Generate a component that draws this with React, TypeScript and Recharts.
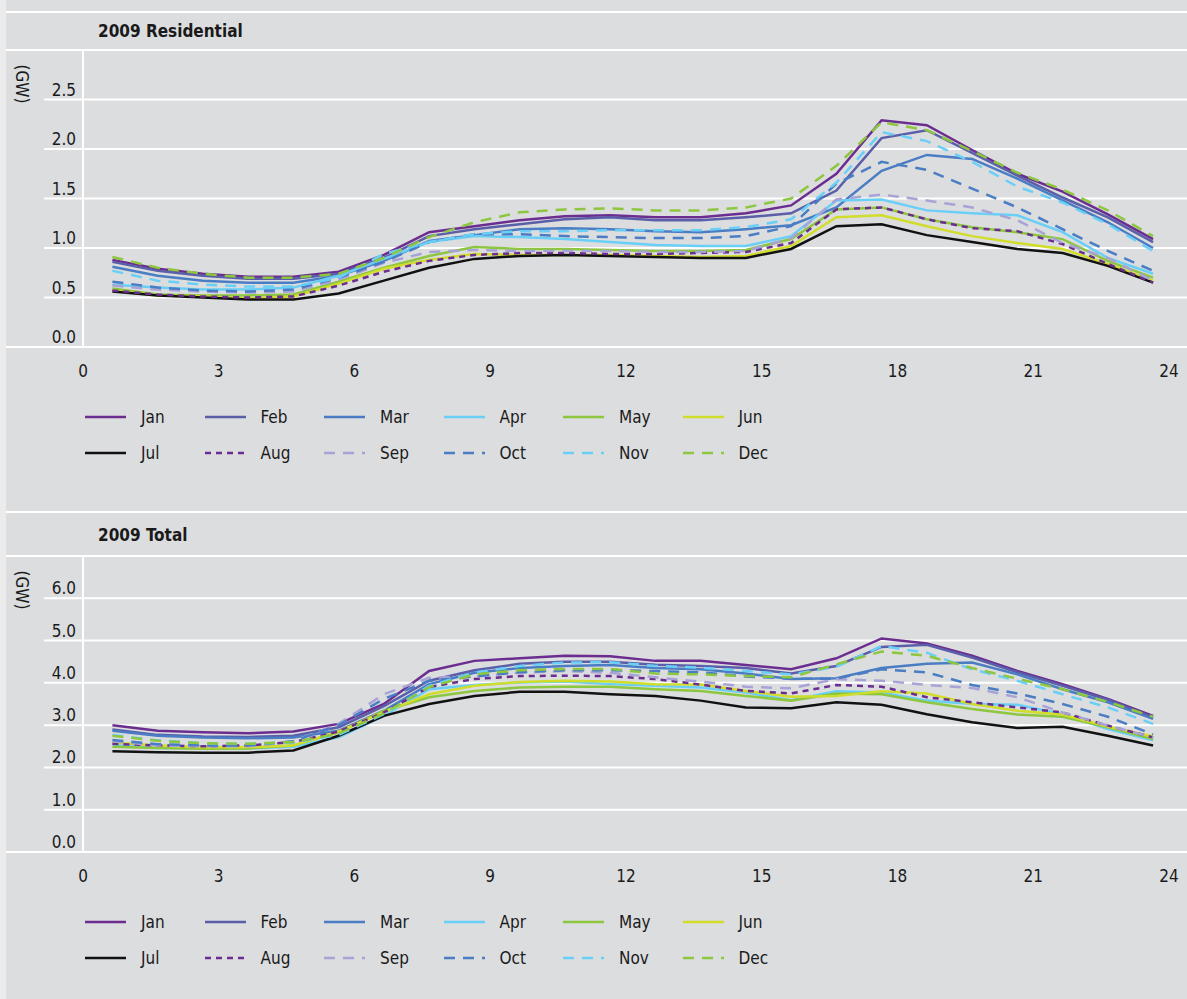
import React from "react";
import { LineChart, Line, XAxis, YAxis, CartesianGrid } from "recharts";

// hour of day for each of the 24 readings
const hours = [
  0.65, 1.65, 2.65, 3.65, 4.65, 5.65, 6.65, 7.65, 8.65, 9.65, 10.65, 11.65,
  12.65, 13.65, 14.65, 15.65, 16.65, 17.65, 18.65, 19.65, 20.65, 21.65, 22.65, 23.65,
];
const xTicks = [0, 3, 6, 9, 12, 15, 18, 21, 24];
const residentialTicks = [0, 0.5, 1, 1.5, 2, 2.5, 3];
const totalTicks = [0, 1, 2, 3, 4, 5, 6, 7];
const months = ["Jan", "Feb", "Mar", "Apr", "May", "Jun", "Jul", "Aug", "Sep", "Oct", "Nov", "Dec"];

// 2009 Residential (GW)
const resJan = [0.88, 0.79, 0.74, 0.71, 0.71, 0.76, 0.93, 1.16, 1.22, 1.28, 1.32, 1.33, 1.31, 1.31, 1.35, 1.43, 1.75, 2.29, 2.24, 1.99, 1.75, 1.57, 1.34, 1.09];
const resFeb = [0.86, 0.77, 0.72, 0.69, 0.69, 0.74, 0.9, 1.12, 1.19, 1.24, 1.29, 1.31, 1.28, 1.28, 1.31, 1.35, 1.58, 2.11, 2.19, 1.96, 1.73, 1.51, 1.31, 1.06];
const resMar = [0.81, 0.72, 0.67, 0.65, 0.65, 0.72, 0.87, 1.07, 1.13, 1.19, 1.2, 1.19, 1.17, 1.16, 1.19, 1.23, 1.41, 1.78, 1.94, 1.9, 1.7, 1.48, 1.26, 1.0];
const resApr = [0.63, 0.6, 0.58, 0.58, 0.6, 0.72, 0.89, 1.06, 1.12, 1.11, 1.09, 1.06, 1.03, 1.02, 1.02, 1.12, 1.48, 1.49, 1.38, 1.35, 1.33, 1.16, 0.9, 0.74];
const resMay = [0.59, 0.53, 0.52, 0.52, 0.53, 0.66, 0.8, 0.92, 1.01, 0.99, 0.99, 0.98, 0.97, 0.97, 0.98, 1.09, 1.39, 1.41, 1.29, 1.21, 1.16, 1.09, 0.87, 0.7];
const resJun = [0.57, 0.52, 0.51, 0.49, 0.51, 0.64, 0.79, 0.88, 0.94, 0.93, 0.93, 0.93, 0.92, 0.91, 0.92, 1.02, 1.31, 1.33, 1.22, 1.12, 1.05, 0.99, 0.84, 0.67];
const resJul = [0.56, 0.52, 0.5, 0.48, 0.48, 0.54, 0.67, 0.8, 0.89, 0.92, 0.93, 0.92, 0.91, 0.9, 0.9, 0.99, 1.22, 1.24, 1.13, 1.06, 0.99, 0.95, 0.82, 0.65];
const resAug = [0.57, 0.53, 0.51, 0.5, 0.51, 0.62, 0.76, 0.87, 0.93, 0.95, 0.95, 0.94, 0.94, 0.95, 0.96, 1.05, 1.39, 1.41, 1.29, 1.2, 1.17, 1.04, 0.84, 0.65];
const resSep = [0.62, 0.58, 0.56, 0.55, 0.56, 0.68, 0.85, 0.96, 0.98, 0.97, 0.97, 0.97, 0.96, 0.96, 0.97, 1.1, 1.49, 1.54, 1.48, 1.41, 1.28, 1.05, 0.9, 0.67];
const resOct = [0.66, 0.6, 0.57, 0.56, 0.58, 0.7, 0.86, 1.06, 1.14, 1.14, 1.12, 1.11, 1.1, 1.1, 1.12, 1.22, 1.65, 1.87, 1.79, 1.6, 1.41, 1.19, 0.97, 0.77];
const resNov = [0.77, 0.67, 0.63, 0.61, 0.61, 0.7, 0.94, 1.06, 1.14, 1.17, 1.17, 1.18, 1.18, 1.18, 1.21, 1.29, 1.66, 2.17, 2.08, 1.87, 1.62, 1.46, 1.24, 0.97];
const resDec = [0.91, 0.8, 0.74, 0.7, 0.7, 0.74, 0.9, 1.11, 1.26, 1.36, 1.39, 1.4, 1.38, 1.38, 1.41, 1.5, 1.83, 2.27, 2.19, 1.98, 1.76, 1.59, 1.38, 1.12];

// 2009 Total (GW)
const totJan = [3.0, 2.87, 2.83, 2.81, 2.85, 3.03, 3.5, 4.28, 4.52, 4.58, 4.64, 4.63, 4.52, 4.52, 4.42, 4.32, 4.58, 5.05, 4.93, 4.64, 4.28, 3.97, 3.62, 3.22];
const totFeb = [2.9, 2.77, 2.73, 2.72, 2.75, 2.95, 3.45, 4.05, 4.3, 4.45, 4.5, 4.5, 4.43, 4.4, 4.35, 4.22, 4.4, 4.85, 4.9, 4.6, 4.25, 3.93, 3.6, 3.18];
const totMar = [2.87, 2.75, 2.71, 2.69, 2.71, 2.87, 3.34, 3.97, 4.24, 4.35, 4.4, 4.42, 4.35, 4.32, 4.22, 4.09, 4.11, 4.35, 4.45, 4.48, 4.2, 3.85, 3.54, 3.15];
const totApr = [2.53, 2.46, 2.46, 2.45, 2.49, 2.71, 3.22, 3.85, 3.95, 4.01, 4.03, 3.97, 3.93, 3.89, 3.77, 3.59, 3.8, 3.77, 3.58, 3.5, 3.48, 3.26, 2.91, 2.64];
const totMay = [2.49, 2.46, 2.44, 2.45, 2.52, 2.83, 3.34, 3.66, 3.81, 3.89, 3.91, 3.91, 3.85, 3.81, 3.69, 3.58, 3.75, 3.73, 3.54, 3.38, 3.25, 3.2, 2.95, 2.67];
const totJun = [2.59, 2.52, 2.48, 2.48, 2.52, 2.85, 3.31, 3.73, 3.93, 4.02, 4.05, 4.03, 3.97, 3.96, 3.81, 3.67, 3.69, 3.8, 3.75, 3.5, 3.34, 3.25, 2.97, 2.73];
const totJul = [2.38, 2.36, 2.35, 2.35, 2.4, 2.75, 3.22, 3.5, 3.69, 3.79, 3.79, 3.73, 3.69, 3.58, 3.42, 3.4, 3.54, 3.48, 3.26, 3.07, 2.93, 2.96, 2.75, 2.52];
const totAug = [2.56, 2.52, 2.5, 2.52, 2.6, 2.85, 3.3, 3.9, 4.09, 4.16, 4.17, 4.16, 4.09, 3.96, 3.81, 3.75, 3.95, 3.91, 3.66, 3.54, 3.42, 3.3, 2.99, 2.71];
const totSep = [2.62, 2.52, 2.5, 2.5, 2.62, 3.03, 3.73, 4.12, 4.16, 4.24, 4.28, 4.24, 4.13, 4.03, 3.91, 3.87, 4.09, 4.05, 3.95, 3.88, 3.66, 3.3, 2.99, 2.71];
const totOct = [2.65, 2.55, 2.52, 2.52, 2.62, 3.0, 3.62, 4.05, 4.15, 4.25, 4.3, 4.3, 4.28, 4.25, 4.15, 4.1, 4.1, 4.32, 4.25, 3.95, 3.75, 3.5, 3.2, 2.78];
const totNov = [2.77, 2.64, 2.57, 2.56, 2.59, 2.77, 3.26, 3.93, 4.24, 4.4, 4.48, 4.49, 4.4, 4.36, 4.28, 4.2, 4.38, 4.87, 4.71, 4.32, 4.05, 3.73, 3.42, 3.03];
const totDec = [2.75, 2.63, 2.57, 2.56, 2.6, 2.8, 3.28, 3.9, 4.2, 4.3, 4.33, 4.33, 4.22, 4.2, 4.16, 4.13, 4.44, 4.74, 4.64, 4.35, 4.1, 3.85, 3.55, 3.2];

const residential = [resJan, resFeb, resMar, resApr, resMay, resJun, resJul, resAug, resSep, resOct, resNov, resDec];
const total = [totJan, totFeb, totMar, totApr, totMay, totJun, totJul, totAug, totSep, totOct, totNov, totDec];

const STYLES: Record<string, { color: string; dash?: string }> = {
  Jan: { color: "#6b2d8f" },
  Feb: { color: "#5b5ea8" },
  Mar: { color: "#4a7dc3" },
  Apr: { color: "#6acff6" },
  May: { color: "#8dc63f" },
  Jun: { color: "#d0dd2a" },
  Jul: { color: "#111111" },
  Aug: { color: "#6b2d8f", dash: "6 5" },
  Sep: { color: "#a8a3d6", dash: "11 8" },
  Oct: { color: "#4a7dc3", dash: "11 8" },
  Nov: { color: "#6acff6", dash: "11 8" },
  Dec: { color: "#8dc63f", dash: "11 8" },
};

const FONT = '"DejaVu Sans Condensed", "Liberation Sans Narrow", sans-serif';
const TEXT = "#1a1a1a";
const BG = "#dcdddf";
const PAGE_W = 1187;
const CHART_LEFT = 6;
const CHART_W = PAGE_W - CHART_LEFT;
const AXIS_W = 77;

function buildRows(values: number[][]) {
  return hours.map((hour, i) => {
    const row: Record<string, number> = { hour };
    months.forEach((m, k) => {
      row[m] = values[k][i];
    });
    return row;
  });
}

function YTick(props: any) {
  const { y, payload, max } = props;
  const v = payload.value as number;
  const full = v === 0 || v === max;
  return (
    <g>
      <line x1={full ? 0 : 38} x2={AXIS_W} y1={y} y2={y} stroke="#fff" strokeWidth={2} />
      {v !== max && (
        <text x={AXIS_W - 7} y={y - 4} textAnchor="end" fontSize={17} fill={TEXT} fontFamily={FONT}>
          {v.toFixed(1)}
        </text>
      )}
    </g>
  );
}

function Legend({ top }: { top: number }) {
  return (
    <>
      {months.map((m, k) => {
        const col = k % 6;
        const row = Math.floor(k / 6);
        const cy = top + row * 36;
        const s = STYLES[m];
        return (
          <React.Fragment key={m}>
            <svg
              width={42}
              height={6}
              style={{ position: "absolute", left: 85 + col * 119.5, top: cy - 3 }}
            >
              <line x1={0} x2={41} y1={3} y2={3} stroke={s.color} strokeWidth={2.5} strokeDasharray={s.dash} />
            </svg>
            <div
              style={{
                position: "absolute",
                left: 141 + col * 119.5,
                top: cy - 12,
                lineHeight: "24px",
                fontSize: 17,
                color: TEXT,
              }}
            >
              {m}
            </div>
          </React.Fragment>
        );
      })}
    </>
  );
}

interface PanelProps {
  title: string;
  values: number[][];
  ticks: number[];
  top: number; // y of separator line
  titleY: number;
  plotTop: number;
  plotBottom: number;
}

function Panel({ title, values, ticks, top, titleY, plotTop, plotBottom }: PanelProps) {
  const data = buildRows(values);
  const max = ticks[ticks.length - 1];
  const plotH = plotBottom - plotTop;
  const chartTop = plotTop - 10;
  return (
    <>
      <div style={{ position: "absolute", left: CHART_LEFT, top: top - 1, width: CHART_W, height: 2, background: "#fff" }} />
      <div
        style={{
          position: "absolute",
          left: 98,
          top: titleY - 12,
          lineHeight: "24px",
          fontSize: 17,
          fontWeight: "bold",
          color: TEXT,
        }}
      >
        {title}
      </div>
      <div
        style={{
          position: "absolute",
          left: 22 - 30,
          top: plotTop + 34 - 12,
          width: 60,
          lineHeight: "24px",
          textAlign: "center",
          fontSize: 17,
          color: TEXT,
          transform: "rotate(90deg)",
        }}
      >
        (GW)
      </div>
      <div style={{ position: "absolute", left: CHART_LEFT, top: chartTop }}>
        <LineChart
          width={CHART_W}
          height={10 + plotH + 40}
          data={data}
          margin={{ top: 10, right: 0, bottom: 0, left: 0 }}
        >
          <CartesianGrid horizontal vertical={false} stroke="#ffffff" strokeWidth={2} />
          <XAxis
            dataKey="hour"
            type="number"
            domain={[0, 24.4]}
            ticks={xTicks}
            interval={0}
            axisLine={false}
            tickLine={false}
            tickMargin={12}
            height={40}
            tick={{ fontSize: 17, fill: TEXT, fontFamily: FONT }}
          />
          <YAxis
            type="number"
            domain={[0, max]}
            ticks={ticks}
            interval={0}
            width={AXIS_W}
            axisLine={{ stroke: "#ffffff", strokeWidth: 2 }}
            tickLine={false}
            tick={(p: any) => <YTick {...p} max={max} />}
          />
          {months.map((m) => (
            <Line
              key={m}
              type="linear"
              dataKey={m}
              name={m}
              stroke={STYLES[m].color}
              strokeWidth={2.5}
              strokeDasharray={STYLES[m].dash}
              dot={false}
              activeDot={false}
              isAnimationActive={false}
            />
          ))}
        </LineChart>
      </div>
      <Legend top={plotBottom + 70} />
    </>
  );
}

export default function App() {
  return (
    <div
      style={{
        position: "absolute",
        left: 0,
        top: 0,
        width: PAGE_W,
        height: 999,
        background: "#ebebec",
        fontFamily: FONT,
        overflow: "hidden",
      }}
    >
      <div style={{ position: "absolute", left: CHART_LEFT, top: 0, width: CHART_W, height: 999, background: BG }} />
      <Panel
        title="2009 Residential"
        values={residential}
        ticks={residentialTicks}
        top={12}
        titleY={31}
        plotTop={50}
        plotBottom={347}
      />
      <Panel
        title="2009 Total"
        values={total}
        ticks={totalTicks}
        top={512}
        titleY={535}
        plotTop={556}
        plotBottom={852}
      />
    </div>
  );
}
